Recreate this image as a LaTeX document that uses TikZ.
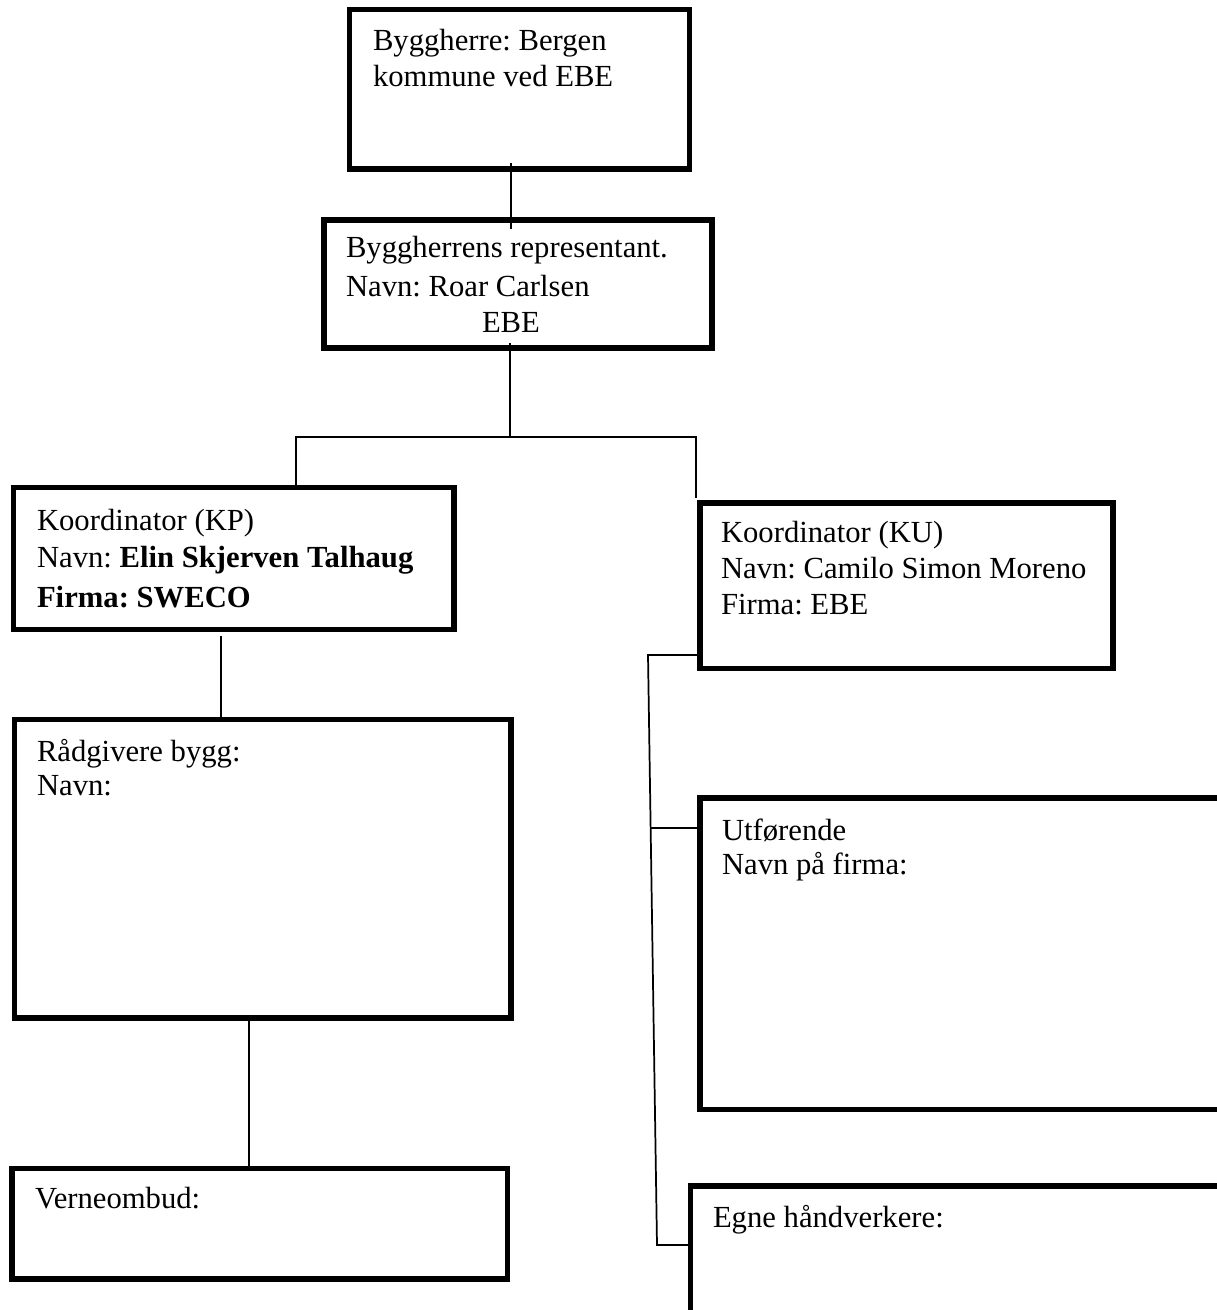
\documentclass[tikz,border=0pt]{standalone}
\usepackage{fontspec}
\setmainfont{Liberation Serif}
\usetikzlibrary{calc}
\tikzset{
  obox/.style={draw, line width=4pt, inner sep=0pt, outer sep=0pt},
  conn/.style={line width=1.3pt},
  txt/.style={anchor=base west, inner sep=0pt, outer sep=0pt, font=\fontsize{23}{27}\selectfont\frenchspacing},
}
\newcommand{\orgbox}[5]{%
  \node[obox, minimum width={(#4-#2)*0.75pt}, minimum height={(#5-#3)*0.75pt}]
    (#1) at ({(#2+#4)/2},{(#3+#5)/2}) {};}
\begin{document}
\begin{tikzpicture}[x=0.75pt,y=-0.75pt]
\useasboundingbox (0,0) rectangle (1217,1310);
\clip (0,0) rectangle (1217,1310);
% boxes
\orgbox{b1}{349.5}{9.5}{689.5}{169}
\orgbox{b2}{324}{220}{712}{348}
\orgbox{bkp}{13.5}{487.5}{454}{629.5}
\orgbox{brad}{14.5}{719.5}{511}{1018}
\orgbox{bverne}{12}{1168.5}{507.5}{1279}
\orgbox{bku}{700}{503}{1113}{668.5}
\orgbox{butf}{700}{798}{1219.5}{1109.5}
\orgbox{begne}{690.5}{1186}{1219.5}{1320}
% texts
\node[txt] (t1a) at (373,50) {Byggherre: Bergen};
\node[txt] (t1b) at (373,86) {kommune ved EBE};
\node[txt] (t2a) at (346,257) {Byggherrens representant.};
\node[txt] (t2b) at (346,296) {Navn: Roar Carlsen};
\node[txt] (t2c) at (482,332) {EBE};
\node[txt] (t3a) at (37,530) {Koordinator (KP)};
\node[txt] (t3b) at (37,567) {Navn: \textbf{Elin Skjerven Talhaug}};
\node[txt] (t3c) at (37,607) {\textbf{Firma: SWECO}};
\node[txt] (t4a) at (721,542) {Koordinator (KU)};
\node[txt] (t4b) at (721,578) {Navn: Camilo Simon Moreno};
\node[txt] (t4c) at (721,614) {Firma: EBE};
\node[txt] (t5a) at (37,761) {Rådgivere bygg:};
\node[txt] (t5b) at (37,795) {Navn:};
\node[txt] (t6a) at (35,1208) {Verneombud:};
\node[txt] (t7a) at (722,840) {Utførende};
\node[txt] (t7b) at (722,874) {Navn på firma:};
\node[txt] (t8a) at (713,1227) {Egne håndverkere:};
% connector coordinates
\coordinate (c1) at (511,0);
\coordinate (jc) at (510,437);
\coordinate (jl) at (296,437);
\coordinate (jr) at (696,437);
\coordinate (c3) at (221,0);
\coordinate (c4) at (249,0);
\coordinate (rt) at (648,655);
\coordinate (rb) at (657,1245);
\coordinate (rm) at ($(rt)!0.293!(rb)$);
% connectors
\draw[conn, shorten <=-4.5pt, shorten >=-7pt] (b1.south -| c1) -- (b2.north -| c1);
\draw[conn, shorten <=-4pt] (b2.south -| jc) -- (jc);
\draw[conn] (bkp.north -| jl) -- (jl) -- (jr) -- ([yshift=4pt]bku.north -| jr);
\draw[conn, shorten <=5pt] (bkp.south -| c3) -- (brad.north -| c3);
\draw[conn] (brad.south -| c4) -- (bverne.north -| c4);
\draw[conn] (bku.west |- rt) -- (rt) -- (rb) -- (begne.west |- rb);
\draw[conn] (rm) -- (butf.west |- rm);
\end{tikzpicture}
\end{document}
